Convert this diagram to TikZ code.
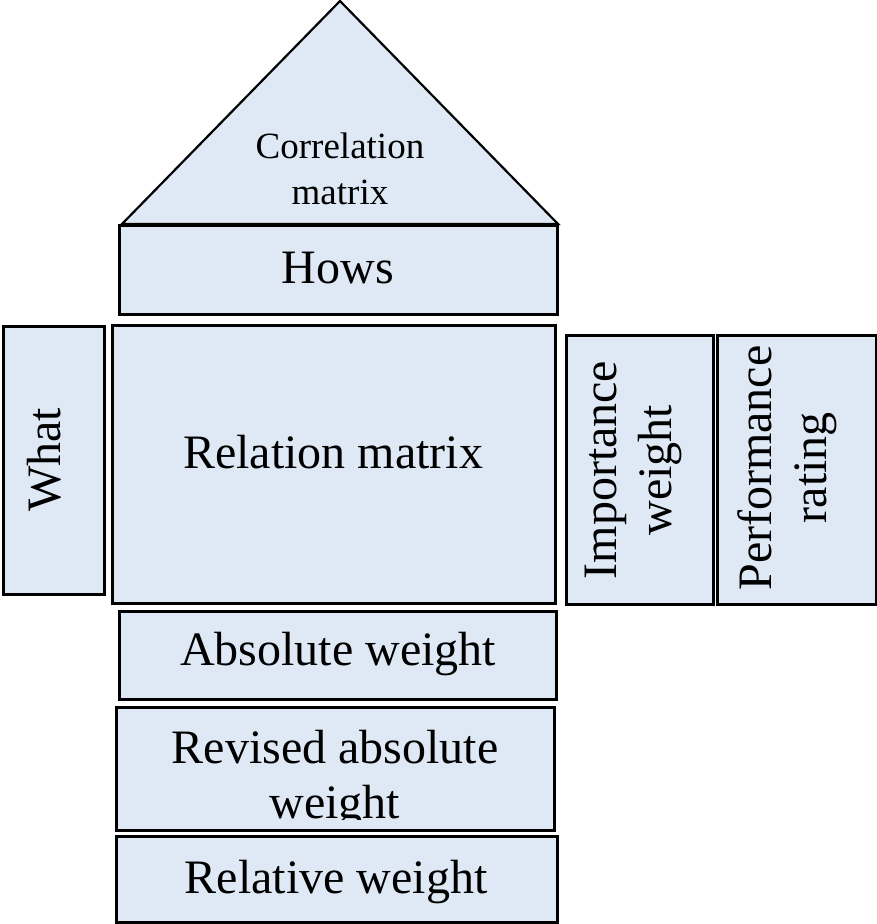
\documentclass[tikz,border=0pt]{standalone}
\usepackage{fontspec}
\setmainfont{Liberation Serif}
\definecolor{boxfill}{HTML}{DEE9F5}
\begin{document}
\begin{tikzpicture}[x=1pt,y=-1pt,
  blk/.style={draw=black, fill=boxfill, line width=3pt},
  tri/.style={draw=black, fill=boxfill, line width=2.2pt, line join=miter},
  big/.style={font=\fontsize{48}{55}\selectfont, inner sep=0pt, align=center},
  small/.style={font=\fontsize{37}{46}\selectfont, inner sep=0pt, align=center}]
\useasboundingbox (0,0) rectangle (877,924);
% roof
\draw[tri] (122,224) -- (340,1) -- (558,224) -- cycle;
\node[small, anchor=base] (corr1) at (340,158) {Correlation};
\node[small, anchor=base] (corr2) at (340,204) {matrix};
% boxes
\draw[blk] (119,225) rectangle (557,314);
\node[big, anchor=base] (hows) at (338,283) {Hows};
\draw[blk] (3,326) rectangle (104,594);
\node[big, rotate=90] (what) at (44,460) {What};
\draw[blk] (112,325) rectangle (555,603);
\node[big, anchor=base] (rel) at (333,468) {Relation matrix};
\draw[blk] (566,335) rectangle (713,604);
\node[big, rotate=90] (imp) at (633,470) {Importance\\weight};
\draw[blk] (717,335) rectangle (876,604);
\node[big, rotate=90] (perf) at (787,468) {Performance\\rating};
\draw[blk] (119,611) rectangle (556,699);
\node[big, anchor=base] (abs) at (338,665) {Absolute weight};
\draw[blk] (116,707) rectangle (554,830);
\begin{scope}
  \clip (116,707) rectangle (554,819);
  \node[big, anchor=base] (rev1) at (335,763) {Revised absolute};
  \node[big, anchor=base] (rev2) at (335,818) {weight};
\end{scope}
\draw[blk] (116,836) rectangle (557,922);
\node[big, anchor=base] (relw) at (336,893) {Relative weight};
\end{tikzpicture}
\end{document}
